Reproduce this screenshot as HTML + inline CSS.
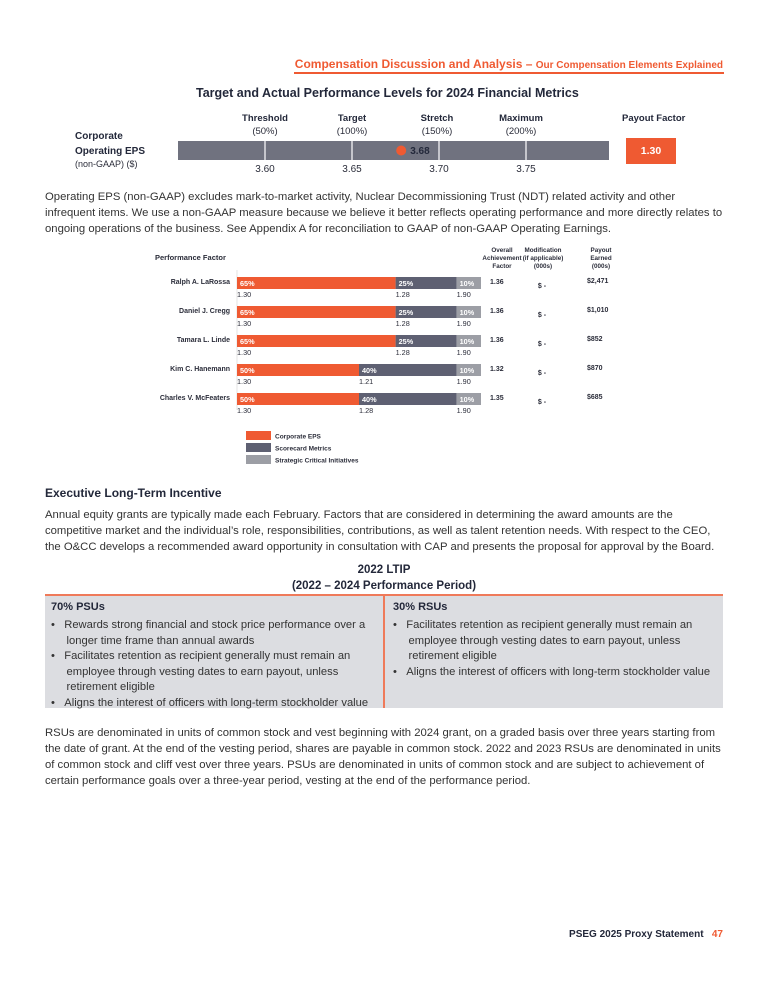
<!DOCTYPE html>
<html><head><meta charset="utf-8">
<style>
*{margin:0;padding:0;box-sizing:border-box}
body{width:768px;height:993px;background:#fff;position:relative;font-family:"Liberation Sans",sans-serif;color:#2b2d3a;overflow:hidden}
.a{position:absolute;white-space:nowrap}
.p{font-size:11px;line-height:16px;color:#333}
.h{font-weight:bold;color:#23283a}
.sm{font-size:9.5px}
</style></head><body>
<div class="a" style="right:45px;top:57px;color:#ef5a32;font-weight:bold;font-size:12px">Compensation Discussion and Analysis – <span style="font-size:10px">Our Compensation Elements Explained</span></div>
<div class="a" style="left:294px;top:72px;width:430px;height:1.5px;background:#ef5a32"></div>

<div class="a h" style="left:196px;top:86px;font-size:12.5px">Target and Actual Performance Levels for 2024 Financial Metrics</div>
<div class="a h sm" style="left:236px;top:113px;width:58px;text-align:center">Threshold</div>
<div class="a sm" style="left:236px;top:126px;width:58px;text-align:center">(50%)</div>
<div class="a h sm" style="left:323px;top:113px;width:58px;text-align:center">Target</div>
<div class="a sm" style="left:323px;top:126px;width:58px;text-align:center">(100%)</div>
<div class="a h sm" style="left:408px;top:113px;width:58px;text-align:center">Stretch</div>
<div class="a sm" style="left:408px;top:126px;width:58px;text-align:center">(150%)</div>
<div class="a h sm" style="left:492px;top:113px;width:58px;text-align:center">Maximum</div>
<div class="a sm" style="left:492px;top:126px;width:58px;text-align:center">(200%)</div>
<div class="a h sm" style="left:622px;top:113px">Payout Factor</div>
<div class="a h" style="left:75px;top:129px;font-size:10px;line-height:15px">Corporate<br>Operating EPS</div>
<div class="a sm" style="left:75px;top:159px;font-size:9px">(non-GAAP) ($)</div>
<svg class="a" style="left:0;top:0" width="768" height="180" id="eps"></svg>
<div class="a" style="left:626px;top:138px;width:50px;height:26px;background:#ef5a32;color:#fff;font-weight:bold;font-size:10.5px;text-align:center;line-height:26px">1.30</div>

<div class="a p" style="left:45px;top:189px;font-size:11.3px">Operating EPS (non-GAAP) excludes mark-to-market activity, Nuclear Decommissioning Trust (NDT) related activity and other<br>infrequent items. We use a non-GAAP measure because we believe it better reflects operating performance and more directly relates to<br>ongoing operations of the business. See Appendix A for reconciliation to GAAP of non-GAAP Operating Earnings.</div>

<svg class="a" style="left:0;top:240px" width="768" height="230" id="perf"></svg>

<div class="a h" style="left:45px;top:486px;font-size:12px">Executive Long-Term Incentive</div>
<div class="a p" style="left:45px;top:507px;font-size:11.3px">Annual equity grants are typically made each February. Factors that are considered in determining the award amounts are the<br>competitive market and the individual’s role, responsibilities, contributions, as well as talent retention needs. With respect to the CEO,<br>the O&amp;CC develops a recommended award opportunity in consultation with CAP and presents the proposal for approval by the Board.</div>
<div class="a h" style="left:0;width:768px;top:562px;text-align:center;font-size:11.5px;line-height:16px">2022 LTIP<br>(2022 – 2024 Performance Period)</div>

<div class="a" style="left:45px;top:594px;width:678px;height:114px;background:#dcdde1;border-top:2px solid #ef7a5a"></div>
<div class="a" style="left:383px;top:594px;width:2px;height:114px;background:#ef7a5a"></div>
<div class="a h" style="left:51px;top:601px;font-size:11px">70% PSUs</div>
<div class="a p" style="left:51px;top:618px;line-height:15.5px;font-size:11.2px">•&nbsp;&nbsp;&nbsp;Rewards strong financial and stock price performance over a<br>&nbsp;&nbsp;&nbsp;&nbsp;&nbsp;longer time frame than annual awards<br>•&nbsp;&nbsp;&nbsp;Facilitates retention as recipient generally must remain an<br>&nbsp;&nbsp;&nbsp;&nbsp;&nbsp;employee through vesting dates to earn payout, unless<br>&nbsp;&nbsp;&nbsp;&nbsp;&nbsp;retirement eligible<br>•&nbsp;&nbsp;&nbsp;Aligns the interest of officers with long-term stockholder value</div>
<div class="a h" style="left:393px;top:601px;font-size:11px">30% RSUs</div>
<div class="a p" style="left:393px;top:618px;line-height:15.5px;font-size:11.2px">•&nbsp;&nbsp;&nbsp;Facilitates retention as recipient generally must remain an<br>&nbsp;&nbsp;&nbsp;&nbsp;&nbsp;employee through vesting dates to earn payout, unless<br>&nbsp;&nbsp;&nbsp;&nbsp;&nbsp;retirement eligible<br>•&nbsp;&nbsp;&nbsp;Aligns the interest of officers with long-term stockholder value</div>

<div class="a p" style="left:45px;top:725px;font-size:11.3px">RSUs are denominated in units of common stock and vest beginning with 2024 grant, on a graded basis over three years starting from<br>the date of grant. At the end of the vesting period, shares are payable in common stock. 2022 and 2023 RSUs are denominated in units<br>of common stock and cliff vest over three years. PSUs are denominated in units of common stock and are subject to achievement of<br>certain performance goals over a three-year period, vesting at the end of the performance period.</div>

<div class="a" style="right:45px;top:929px;font-size:10px;font-weight:bold;color:#23283a">PSEG 2025 Proxy Statement&nbsp;&nbsp;&nbsp;<span style="color:#ef5a32">47</span></div>

<script>
const NS="http://www.w3.org/2000/svg";
function mk(p,t,at,txt){const e=document.createElementNS(NS,t);for(const k in at)e.setAttribute(k,at[k]);if(txt!==undefined)e.textContent=txt;p.appendChild(e);return e;}
// EPS chart data
const epsTicks=[3.60,3.65,3.70,3.75];
const epsActual=[3.68];
const eps=document.getElementById('eps');
const ex=v=>265+(v-3.60)/0.05*87;
const bar=mk(eps,'rect',{x:178,y:141,width:431,height:19,fill:'#70727f'});


epsTicks.forEach(t=>{
  const l=mk(eps,'line',{x1:ex(t),x2:ex(t),y1:141,y2:160,stroke:'#fff','stroke-width':1.2});
  
  
  const tx=mk(eps,'text',{x:ex(t),y:172,'text-anchor':'middle','font-size':10,fill:'#2b2d3a','font-family':'Liberation Sans'},t.toFixed(2));
  
  
});
epsActual.forEach(v=>{
  const d=mk(eps,'circle',{cx:ex(v)-3,cy:150.5,r:5,fill:'#ef5a32'});
  
  
  const t=mk(eps,'text',{x:ex(v)+6,y:154,'font-size':10,'font-weight':'bold',fill:'#23283a','font-family':'Liberation Sans'},v.toFixed(2));
  
  
});

// Performance chart data
const names=["Ralph A. LaRossa","Daniel J. Cregg","Tamara L. Linde","Kim C. Hanemann","Charles V. McFeaters"];
const epsWeight=[65,65,65,50,50];
const scoreWeight=[25,25,25,40,40];
const sciWeight=[10,10,10,10,10];
const epsFactor=["1.30","1.30","1.30","1.30","1.30"];
const scoreFactor=["1.28","1.28","1.28","1.21","1.28"];
const sciFactor=["1.90","1.90","1.90","1.90","1.90"];
const achievement=["1.36","1.36","1.36","1.32","1.35"];
const modification=["$ -","$ -","$ -","$ -","$ -"];
const payout=["$2,471","$1,010","$852","$870","$685"];
const colors=['#ef5a32','#5e6072','#9c9ea5'];
const perf=document.getElementById('perf');
const F='Liberation Sans';
const X0=237,W=244;
const px=p=>X0+p/100*W;
const rowY=i=>37+i*29;
function t(x,y,s,o){const e=mk(perf,'text',Object.assign({x:x,y:y,'font-size':7,'font-family':F,fill:'#2b2d3a'},o||{}),s);return e;}
let h=t(155,20,'Performance Factor',{'font-weight':'bold','font-size':7.5});


[['Overall','Achievement','Factor',502],['Modification','(if applicable)','(000s)',543],['Payout','Earned','(000s)',601]].forEach(c=>{
  for(let k=0;k<3;k++){const e=t(c[3],12+k*8,c[k],{'text-anchor':'middle','font-weight':'bold','font-size':6.3});
  
  }
});
const ax=mk(perf,'line',{x1:X0,x2:X0,y1:30,y2:170,stroke:'#ddd','stroke-width':0.8});


names.forEach((n,i)=>{
  const y=rowY(i);
  const nm=t(230,y+7,n,{'text-anchor':'end','font-weight':'bold'});
  
  
  const ws=[epsWeight[i],scoreWeight[i],sciWeight[i]];
  const fs=[epsFactor[i],scoreFactor[i],sciFactor[i]];
  let acc=0;
  ws.forEach((w,k)=>{
    const r=mk(perf,'rect',{x:px(acc),y:y,width:px(acc+w)-px(acc),height:12,fill:colors[k]});
    
    
    const lb=t(px(acc)+3,y+9,w+'%',{fill:'#fff','font-weight':'bold','font-size':7.3});
    
    
    const fl=t(px(acc),y+20,fs[k],{'font-size':7.3});
    
    
    acc+=w;
  });
  const a=t(490,y+7,achievement[i],{'font-weight':'bold'});
  
  
  const m=t(542,y+11,modification[i],{'text-anchor':'middle','font-weight':'bold'});
  
  
  const p=t(587,y+6,payout[i],{'font-weight':'bold'});
  
  
});
const legend=['Corporate EPS','Scorecard Metrics','Strategic Critical Initiatives'];
legend.forEach((s,k)=>{
  const y=191+k*12;
  const r=mk(perf,'rect',{x:246,y:y,width:25,height:9,fill:colors[k]});
  
  
  const e=t(275,y+7.5,s,{'font-weight':'bold','font-size':6.5});
  
  
});
</script>
</body></html>
